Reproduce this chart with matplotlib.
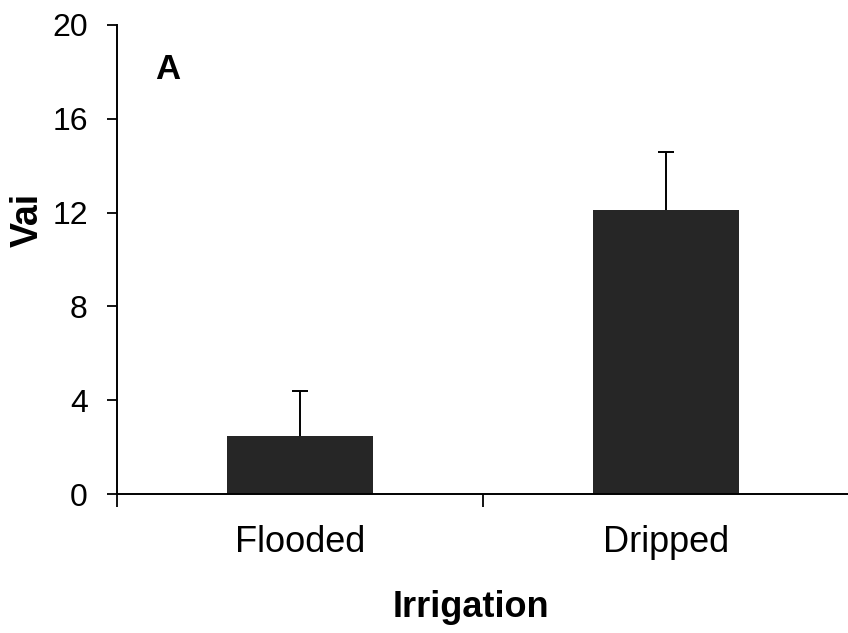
import matplotlib
matplotlib.use("Agg")
import matplotlib.pyplot as plt
import numpy as np

plt.rcParams["font.family"] = ["Liberation Sans", "DejaVu Sans"]

categories = ["Flooded", "Dripped"]
vai_mean = [2.47, 12.09]
vai_err = [1.91, 2.51]
y_ticks = [0, 4, 8, 12, 16, 20]

fig = plt.figure(figsize=(8.48, 6.33), dpi=100)
ax = fig.add_axes([117 / 848, 1 - 494 / 633, 732 / 848, 469 / 633])

x = np.arange(len(categories))
ax.bar(x, vai_mean, width=0.4, color="#262626", zorder=2)
_, caps, _ = ax.errorbar(x, vai_mean, yerr=[np.zeros(len(x)), vai_err], fmt="none",
                         ecolor="black", elinewidth=1.4, capsize=6, capthick=1.4, zorder=3)
caps[0].set_visible(False)  # only the upper cap

ax.set_xlim(-0.5, 1.5)
ax.set_ylim(0, 20)
ax.set_yticks(y_ticks)
ax.set_yticklabels([str(v) for v in y_ticks], fontsize=23)

# category ticks sit between bars, labels under bars
ax.set_xticks([-0.5, 0.5, 1.5])
ax.set_xticklabels([])
ax.set_xticks(x, minor=True)
ax.set_xticklabels(categories, minor=True, fontsize=26)
ax.tick_params(axis="x", which="major", direction="out", length=9, width=1.3)
ax.tick_params(axis="x", which="minor", length=0, pad=22)
ax.tick_params(axis="y", direction="out", length=7, width=1.3, pad=14)

for side in ["top", "right"]:
    ax.spines[side].set_visible(False)
for side in ["left", "bottom"]:
    ax.spines[side].set_linewidth(1.4)

ax.set_xlabel("Irrigation", fontsize=26, fontweight="bold")
ax.xaxis.set_label_coords((471 - 117) / 732, -(590 - 494) / 469)
ax.xaxis.label.set_verticalalignment("top")
ax.set_ylabel("Vai", fontsize=27, fontweight="bold")
ax.yaxis.set_label_coords(-(117 - 28) / 732, (494 - 220) / 469)
ax.yaxis.label.set_verticalalignment("center")

ax.text(-0.396, 17.7, "A", fontsize=25, fontweight="bold", ha="left", va="baseline")

fig.savefig("out.png", dpi=100)
